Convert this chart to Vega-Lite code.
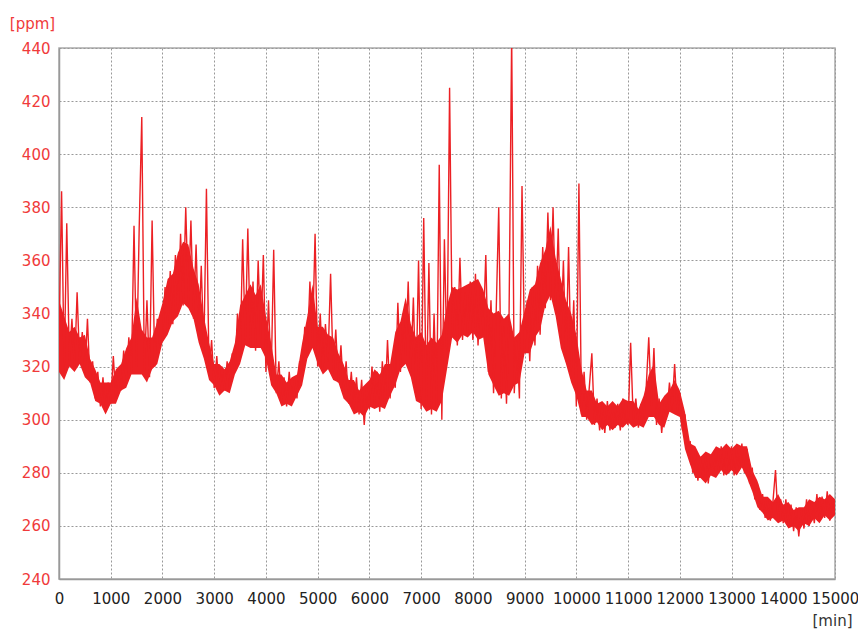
{
  "$schema": "https://vega.github.io/schema/vega-lite/v6.json",
  "width": 776,
  "height": 531,
  "autosize": {"type": "none"},
  "padding": {"left": 59, "top": 48, "right": 23, "bottom": 51},
  "background": "white",
  "config": {
    "view": {"stroke": "#aaaaaa", "strokeWidth": 1.5},
    "font": "DejaVu Sans"
  },
  "datasets": {
    "series": [
    {"t":0,"v":330},{"t":50,"v":386},{"t":100,"v":318},{"t":150,"v":374},{"t":200,"v":322},{"t":250,"v":338},{"t":300,"v":319},{"t":350,"v":348},{"t":400,"v":321},{"t":450,"v":333},{"t":500,"v":317},{"t":550,"v":338},{"t":600,"v":314},{"t":650,"v":322},{"t":700,"v":308},{"t":750,"v":318},{"t":800,"v":305},{"t":850,"v":316},{"t":900,"v":303},{"t":950,"v":314},
    {"t":1000,"v":306},{"t":1050,"v":324},{"t":1100,"v":308},{"t":1150,"v":318},{"t":1200,"v":311},{"t":1250,"v":326},{"t":1300,"v":315},{"t":1350,"v":331},{"t":1400,"v":318},{"t":1450,"v":373},{"t":1500,"v":320},{"t":1550,"v":372},{"t":1600,"v":414},{"t":1650,"v":318},{"t":1700,"v":345},{"t":1750,"v":316},{"t":1800,"v":375},{"t":1850,"v":320},{"t":1900,"v":338},{"t":1950,"v":328},
    {"t":2000,"v":330},{"t":2050,"v":350},{"t":2100,"v":334},{"t":2150,"v":356},{"t":2200,"v":336},{"t":2250,"v":362},{"t":2300,"v":340},{"t":2350,"v":370},{"t":2400,"v":343},{"t":2450,"v":380},{"t":2500,"v":345},{"t":2550,"v":375},{"t":2600,"v":338},{"t":2650,"v":366},{"t":2700,"v":330},{"t":2750,"v":358},{"t":2800,"v":326},{"t":2850,"v":387},{"t":2900,"v":318},{"t":2950,"v":330},
    {"t":3000,"v":312},{"t":3050,"v":324},{"t":3100,"v":310},{"t":3150,"v":320},{"t":3200,"v":311},{"t":3250,"v":322},{"t":3300,"v":312},{"t":3350,"v":325},{"t":3400,"v":318},{"t":3450,"v":340},{"t":3500,"v":322},{"t":3550,"v":368},{"t":3600,"v":330},{"t":3650,"v":372},{"t":3700,"v":328},{"t":3750,"v":352},{"t":3800,"v":326},{"t":3850,"v":360},{"t":3900,"v":330},{"t":3950,"v":362},
    {"t":4000,"v":318},{"t":4050,"v":345},{"t":4100,"v":315},{"t":4150,"v":364},{"t":4200,"v":310},{"t":4250,"v":322},{"t":4300,"v":306},{"t":4350,"v":316},{"t":4400,"v":305},{"t":4450,"v":318},{"t":4500,"v":306},{"t":4550,"v":315},{"t":4600,"v":308},{"t":4650,"v":322},{"t":4700,"v":315},{"t":4750,"v":335},{"t":4800,"v":325},{"t":4850,"v":352},{"t":4900,"v":330},{"t":4950,"v":370},
    {"t":5000,"v":320},{"t":5050,"v":340},{"t":5100,"v":318},{"t":5150,"v":336},{"t":5200,"v":322},{"t":5250,"v":355},{"t":5300,"v":318},{"t":5350,"v":334},{"t":5400,"v":314},{"t":5450,"v":328},{"t":5500,"v":310},{"t":5550,"v":322},{"t":5600,"v":306},{"t":5650,"v":318},{"t":5700,"v":304},{"t":5750,"v":316},{"t":5800,"v":302},{"t":5850,"v":315},{"t":5900,"v":298},{"t":5950,"v":312},
    {"t":6000,"v":304},{"t":6050,"v":320},{"t":6100,"v":306},{"t":6150,"v":318},{"t":6200,"v":303},{"t":6250,"v":322},{"t":6300,"v":305},{"t":6350,"v":330},{"t":6400,"v":308},{"t":6450,"v":322},{"t":6500,"v":312},{"t":6550,"v":344},{"t":6600,"v":318},{"t":6650,"v":340},{"t":6700,"v":324},{"t":6750,"v":352},{"t":6800,"v":318},{"t":6850,"v":346},{"t":6900,"v":310},{"t":6950,"v":360},
    {"t":7000,"v":304},{"t":7050,"v":376},{"t":7100,"v":306},{"t":7150,"v":359},{"t":7200,"v":302},{"t":7250,"v":340},{"t":7300,"v":304},{"t":7350,"v":396},{"t":7400,"v":300},{"t":7450,"v":368},{"t":7500,"v":322},{"t":7550,"v":425},{"t":7600,"v":332},{"t":7650,"v":350},{"t":7700,"v":328},{"t":7750,"v":361},{"t":7800,"v":330},{"t":7850,"v":348},{"t":7900,"v":332},{"t":7950,"v":352},
    {"t":8000,"v":330},{"t":8050,"v":355},{"t":8100,"v":328},{"t":8150,"v":350},{"t":8200,"v":332},{"t":8250,"v":362},{"t":8300,"v":318},{"t":8350,"v":345},{"t":8400,"v":310},{"t":8450,"v":340},{"t":8500,"v":380},{"t":8550,"v":308},{"t":8600,"v":335},{"t":8650,"v":306},{"t":8700,"v":340},{"t":8750,"v":445},{"t":8800,"v":310},{"t":8850,"v":330},{"t":8900,"v":308},{"t":8950,"v":388},
    {"t":9000,"v":325},{"t":9050,"v":345},{"t":9100,"v":322},{"t":9150,"v":350},{"t":9200,"v":328},{"t":9250,"v":358},{"t":9300,"v":332},{"t":9350,"v":365},{"t":9400,"v":342},{"t":9450,"v":378},{"t":9500,"v":345},{"t":9550,"v":380},{"t":9600,"v":340},{"t":9650,"v":372},{"t":9700,"v":330},{"t":9750,"v":360},{"t":9800,"v":322},{"t":9850,"v":365},{"t":9900,"v":318},{"t":9950,"v":345},
    {"t":10000,"v":305},{"t":10050,"v":389},{"t":10100,"v":302},{"t":10150,"v":318},{"t":10200,"v":300},{"t":10250,"v":312},{"t":10300,"v":325},{"t":10350,"v":298},{"t":10400,"v":308},{"t":10450,"v":296},{"t":10500,"v":306},{"t":10550,"v":295},{"t":10600,"v":307},{"t":10650,"v":296},{"t":10700,"v":305},{"t":10750,"v":297},{"t":10800,"v":306},{"t":10850,"v":296},{"t":10900,"v":308},{"t":10950,"v":300},
    {"t":11000,"v":298},{"t":11050,"v":329},{"t":11100,"v":300},{"t":11150,"v":308},{"t":11200,"v":297},{"t":11250,"v":306},{"t":11300,"v":298},{"t":11350,"v":312},{"t":11400,"v":331},{"t":11450,"v":305},{"t":11500,"v":327},{"t":11550,"v":298},{"t":11600,"v":308},{"t":11650,"v":295},{"t":11700,"v":306},{"t":11750,"v":302},{"t":11800,"v":314},{"t":11850,"v":304},{"t":11900,"v":321},{"t":11950,"v":303},
    {"t":12000,"v":310},{"t":12050,"v":296},{"t":12100,"v":302},{"t":12150,"v":288},{"t":12200,"v":292},{"t":12250,"v":280},{"t":12300,"v":288},{"t":12350,"v":277},{"t":12400,"v":286},{"t":12450,"v":278},{"t":12500,"v":287},{"t":12550,"v":276},{"t":12600,"v":286},{"t":12650,"v":279},{"t":12700,"v":289},{"t":12750,"v":280},{"t":12800,"v":290},{"t":12850,"v":279},{"t":12900,"v":288},{"t":12950,"v":280},
    {"t":13000,"v":290},{"t":13050,"v":279},{"t":13100,"v":289},{"t":13150,"v":281},{"t":13200,"v":291},{"t":13250,"v":280},{"t":13300,"v":289},{"t":13350,"v":276},{"t":13400,"v":282},{"t":13450,"v":270},{"t":13500,"v":276},{"t":13550,"v":266},{"t":13600,"v":272},{"t":13650,"v":263},{"t":13700,"v":270},{"t":13750,"v":262},{"t":13800,"v":269},{"t":13850,"v":281},{"t":13900,"v":262},{"t":13950,"v":270},
    {"t":14000,"v":261},{"t":14050,"v":270},{"t":14100,"v":260},{"t":14150,"v":268},{"t":14200,"v":258},{"t":14250,"v":267},{"t":14300,"v":256},{"t":14350,"v":266},{"t":14400,"v":259},{"t":14450,"v":270},{"t":14500,"v":260},{"t":14550,"v":269},{"t":14600,"v":261},{"t":14650,"v":272},{"t":14700,"v":262},{"t":14750,"v":271},{"t":14800,"v":263},{"t":14850,"v":273},{"t":14900,"v":262},{"t":14950,"v":270},{"t":15000,"v":266}
    ],
    "band": [
    {"t":0,"lo":318,"hi":345},{"t":100,"lo":315,"hi":339},{"t":200,"lo":320,"hi":333},{"t":300,"lo":318,"hi":335},{"t":400,"lo":321,"hi":331},{"t":500,"lo":316,"hi":332},{"t":600,"lo":314,"hi":323},{"t":700,"lo":307,"hi":319},{"t":800,"lo":306,"hi":314},{"t":900,"lo":302,"hi":314},
    {"t":1000,"lo":306,"hi":314},{"t":1100,"lo":306,"hi":319},{"t":1200,"lo":311,"hi":321},{"t":1300,"lo":312,"hi":327},{"t":1400,"lo":317,"hi":331},{"t":1500,"lo":317,"hi":346},{"t":1600,"lo":317,"hi":334},{"t":1700,"lo":314,"hi":331},{"t":1800,"lo":319,"hi":331},{"t":1900,"lo":321,"hi":337},
    {"t":2000,"lo":329,"hi":344},{"t":2100,"lo":332,"hi":353},{"t":2200,"lo":337,"hi":355},{"t":2300,"lo":339,"hi":363},{"t":2400,"lo":344,"hi":367},{"t":2500,"lo":342,"hi":366},{"t":2600,"lo":338,"hi":357},{"t":2700,"lo":329,"hi":351},{"t":2800,"lo":323,"hi":339},{"t":2900,"lo":315,"hi":329},
    {"t":3000,"lo":313,"hi":321},{"t":3100,"lo":309,"hi":321},{"t":3200,"lo":311,"hi":319},{"t":3300,"lo":310,"hi":322},{"t":3400,"lo":317,"hi":329},{"t":3500,"lo":321,"hi":343},{"t":3600,"lo":328,"hi":347},{"t":3700,"lo":327,"hi":351},{"t":3800,"lo":327,"hi":347},{"t":3900,"lo":327,"hi":351},
    {"t":4000,"lo":323,"hi":339},{"t":4100,"lo":313,"hi":329},{"t":4200,"lo":310,"hi":317},{"t":4300,"lo":305,"hi":317},{"t":4400,"lo":306,"hi":314},{"t":4500,"lo":305,"hi":316},{"t":4600,"lo":309,"hi":317},{"t":4700,"lo":313,"hi":329},{"t":4800,"lo":323,"hi":339},{"t":4900,"lo":327,"hi":351},
    {"t":5000,"lo":321,"hi":335},{"t":5100,"lo":317,"hi":335},{"t":5200,"lo":319,"hi":332},{"t":5300,"lo":315,"hi":331},{"t":5400,"lo":314,"hi":325},{"t":5500,"lo":308,"hi":321},{"t":5600,"lo":306,"hi":315},{"t":5700,"lo":302,"hi":315},{"t":5800,"lo":303,"hi":311},{"t":5900,"lo":301,"hi":313},
    {"t":6000,"lo":305,"hi":315},{"t":6100,"lo":304,"hi":319},{"t":6200,"lo":305,"hi":317},{"t":6300,"lo":304,"hi":321},{"t":6400,"lo":309,"hi":321},{"t":6500,"lo":313,"hi":333},{"t":6600,"lo":319,"hi":337},{"t":6700,"lo":321,"hi":346},{"t":6800,"lo":316,"hi":336},{"t":6900,"lo":307,"hi":331},
    {"t":7000,"lo":306,"hi":333},{"t":7100,"lo":303,"hi":328},{"t":7200,"lo":304,"hi":331},{"t":7300,"lo":303,"hi":329},{"t":7400,"lo":307,"hi":332},{"t":7500,"lo":319,"hi":343},{"t":7600,"lo":331,"hi":350},{"t":7700,"lo":329,"hi":349},{"t":7800,"lo":332,"hi":350},{"t":7900,"lo":331,"hi":351},
    {"t":8000,"lo":333,"hi":352},{"t":8100,"lo":330,"hi":353},{"t":8200,"lo":331,"hi":349},{"t":8300,"lo":317,"hi":342},{"t":8400,"lo":313,"hi":340},{"t":8500,"lo":309,"hi":341},{"t":8600,"lo":310,"hi":338},{"t":8700,"lo":309,"hi":340},{"t":8800,"lo":313,"hi":331},{"t":8900,"lo":314,"hi":333},
    {"t":9000,"lo":325,"hi":341},{"t":9100,"lo":325,"hi":349},{"t":9200,"lo":331,"hi":351},{"t":9300,"lo":334,"hi":359},{"t":9400,"lo":343,"hi":364},{"t":9500,"lo":347,"hi":373},{"t":9600,"lo":339,"hi":361},{"t":9700,"lo":327,"hi":353},{"t":9800,"lo":321,"hi":345},{"t":9900,"lo":314,"hi":340},
    {"t":10000,"lo":309,"hi":332},{"t":10100,"lo":301,"hi":319},{"t":10200,"lo":301,"hi":311},{"t":10300,"lo":298,"hi":311},{"t":10400,"lo":299,"hi":306},{"t":10500,"lo":296,"hi":307},{"t":10600,"lo":298,"hi":305},{"t":10700,"lo":296,"hi":307},{"t":10800,"lo":298,"hi":305},{"t":10900,"lo":297,"hi":308},
    {"t":11000,"lo":299,"hi":307},{"t":11100,"lo":297,"hi":307},{"t":11200,"lo":298,"hi":304},{"t":11300,"lo":297,"hi":309},{"t":11400,"lo":301,"hi":317},{"t":11500,"lo":301,"hi":321},{"t":11600,"lo":298,"hi":306},{"t":11700,"lo":297,"hi":309},{"t":11800,"lo":303,"hi":311},{"t":11900,"lo":302,"hi":315},
    {"t":12000,"lo":301,"hi":311},{"t":12100,"lo":289,"hi":303},{"t":12200,"lo":283,"hi":291},{"t":12300,"lo":278,"hi":290},{"t":12400,"lo":278,"hi":286},{"t":12500,"lo":276,"hi":288},{"t":12600,"lo":279,"hi":287},{"t":12700,"lo":278,"hi":290},{"t":12800,"lo":281,"hi":289},{"t":12900,"lo":279,"hi":291},
    {"t":13000,"lo":281,"hi":289},{"t":13100,"lo":279,"hi":291},{"t":13200,"lo":282,"hi":290},{"t":13300,"lo":278,"hi":290},{"t":13400,"lo":273,"hi":281},{"t":13500,"lo":267,"hi":277},{"t":13600,"lo":265,"hi":271},{"t":13700,"lo":262,"hi":271},{"t":13800,"lo":263,"hi":269},{"t":13900,"lo":261,"hi":272},
    {"t":14000,"lo":262,"hi":268},{"t":14100,"lo":259,"hi":269},{"t":14200,"lo":260,"hi":266},{"t":14300,"lo":258,"hi":267},{"t":14400,"lo":261,"hi":267},{"t":14500,"lo":260,"hi":270},{"t":14600,"lo":263,"hi":269},{"t":14700,"lo":261,"hi":271},{"t":14800,"lo":264,"hi":270},{"t":14900,"lo":262,"hi":272},{"t":15000,"lo":264,"hi":270}
    ]
  },
  "layer": [
    {
      "data": {"name": "band"},
      "mark": {"type": "area", "color": "#ec2024", "opacity": 1, "clip": true},
      "encoding": {
        "x": {
          "field": "t", "type": "quantitative",
          "scale": {"domain": [0, 15000], "nice": false, "zero": false},
          "axis": {
            "values": [0,1000,2000,3000,4000,5000,6000,7000,8000,9000,10000,11000,12000,13000,14000,15000],
            "format": "d",
            "title": "[min]",
            "titleAngle": 0, "titleX": 773, "titleY": 46, "titleAlign": "center", "titleBaseline": "alphabetic",
            "titleFont": "DejaVu Sans", "titleFontSize": 15, "titleFontWeight": "normal", "titleColor": "#333333",
            "labelFont": "DejaVu Sans", "labelFontSize": 15, "labelColor": "#222222", "labelPadding": 12,
            "labelOverlap": false, "labelFlush": false, "labelBound": false,
            "ticks": false, "tickSize": 0,
            "domainColor": "#999999", "domainWidth": 1.5,
            "grid": true, "gridColor": "#999999", "gridDash": [2, 2], "gridWidth": 1
          }
        },
        "y": {
          "field": "hi", "type": "quantitative",
          "scale": {"domain": [240, 440], "nice": false, "zero": false},
          "axis": {
            "values": [240,260,280,300,320,340,360,380,400,420,440],
            "title": "[ppm]",
            "titleAngle": 0, "titleX": -27, "titleY": -20, "titleAlign": "center", "titleBaseline": "alphabetic",
            "titleFont": "DejaVu Sans", "titleFontSize": 15, "titleFontWeight": "normal", "titleColor": "#f03a3a",
            "labelFont": "DejaVu Sans", "labelFontSize": 15, "labelColor": "#f03a3a", "labelPadding": 9,
            "labelOverlap": false, "labelFlush": false, "labelBound": false,
            "ticks": false, "tickSize": 0,
            "domainColor": "#999999", "domainWidth": 1.5,
            "grid": true, "gridColor": "#999999", "gridDash": [2, 2], "gridWidth": 1
          }
        },
        "y2": {"field": "lo"}
      }
    },
    {
      "data": {"name": "series"},
      "mark": {"type": "line", "color": "#ec2024", "strokeWidth": 1.4, "clip": true},
      "encoding": {
        "x": {"field": "t", "type": "quantitative"},
        "y": {"field": "v", "type": "quantitative"}
      }
    }
  ]
}
